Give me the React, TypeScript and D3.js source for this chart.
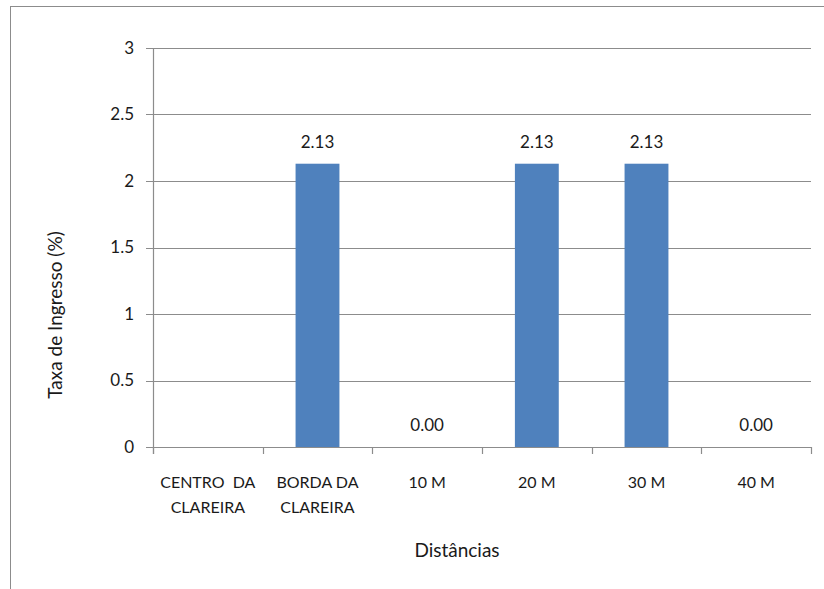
import React from "react";
import * as d3 from "d3";

const categories = ["CENTRO  DA|CLAREIRA", "BORDA DA|CLAREIRA", "10 M", "20 M", "30 M", "40 M"];
const values = [null, 2.13, 0.0, 2.13, 2.13, 0.0];
const yTicks = [0, 0.5, 1, 1.5, 2, 2.5, 3];
const yTickLabels = ["0", "0.5", "1", "1.5", "2", "2.5", "3"];
const yTitle = "Taxa de Ingresso (%)";
const xTitle = "Distâncias";

const W = 824;
const H = 589;
const plot = { left: 153, right: 811, top: 48, bottom: 447 };
const FONT = "Lato, 'Open Sans', sans-serif";
const TEXT = "#1a1a1a";
const GRID = "#8c8c8c";
const BAR = "#4f81bd";

export default function App() {
  const x = d3
    .scaleBand<number>()
    .domain(d3.range(categories.length))
    .range([plot.left, plot.right])
    .paddingInner(0)
    .paddingOuter(0);
  const y = d3.scaleLinear().domain([0, 3]).range([plot.bottom, plot.top]);
  const barW = x.bandwidth() * 0.4;
  const fmt = d3.format(".2f");

  return (
    <svg
      width={W}
      height={H}
      style={{ position: "absolute", left: 0, top: 0, background: "#fff" }}
      fontFamily={FONT}
    >
      {/* chart frame */}
      <rect x={10.5} y={6.5} width={W + 10} height={H + 10} fill="#fff" stroke={GRID} strokeWidth={1} />

      {/* horizontal gridlines and y ticks */}
      {yTicks.map((t, i) => (
        <g key={"y" + i}>
          <line x1={plot.left - 7} x2={plot.right} y1={Math.round(y(t)) + 0.5} y2={Math.round(y(t)) + 0.5} stroke={GRID} strokeWidth={1.2} />
          <text
            x={plot.left - 19}
            y={y(t)}
            dy="0.35em"
            textAnchor="end"
            fontSize={17}
            fill={TEXT}
          >
            {yTickLabels[i]}
          </text>
        </g>
      ))}

      {/* y axis line */}
      <line x1={plot.left + 0.5} x2={plot.left + 0.5} y1={plot.top} y2={plot.bottom + 7} stroke={GRID} strokeWidth={1.2} />

      {/* x category ticks */}
      {d3.range(categories.length + 1).map((i) => {
        const px = i < categories.length ? x(i)! : plot.right;
        return (
          <line key={"xt" + i} x1={Math.round(px) + 0.5} x2={Math.round(px) + 0.5} y1={plot.bottom} y2={plot.bottom + 7} stroke={GRID} strokeWidth={1.2} />
        );
      })}

      {/* bars and value labels */}
      {values.map((v, i) => {
        if (v === null) return null;
        const cx = x(i)! + x.bandwidth() / 2;
        return (
          <g key={"b" + i}>
            {v > 0 && (
              <rect x={cx - barW / 2} y={y(v)} width={barW} height={y(0) - y(v)} fill={BAR} />
            )}
            <text x={cx} y={y(v) - 22} dy="0.35em" textAnchor="middle" fontSize={17} fill={TEXT}>
              {fmt(v)}
            </text>
          </g>
        );
      })}

      {/* category labels */}
      {categories.map((c, i) => {
        const cx = x(i)! + x.bandwidth() / 2;
        const lines = c.split("|");
        return (
          <text key={"c" + i} x={cx} y={482} textAnchor="middle" fontSize={16} fill={TEXT} style={{ whiteSpace: "pre" }}>
            {lines.map((l, j) => (
              <tspan key={j} x={cx} dy={j === 0 ? "0.35em" : 25}>
                {l}
              </tspan>
            ))}
          </text>
        );
      })}

      {/* axis titles */}
      <text x={457} y={550} dy="0.35em" textAnchor="middle" fontSize={19} fill={TEXT}>
        {xTitle}
      </text>
      <text
        transform={`translate(55,315) rotate(-90)`}
        dy="0.35em"
        textAnchor="middle"
        fontSize={19}
        fill={TEXT}
      >
        {yTitle}
      </text>
    </svg>
  );
}
